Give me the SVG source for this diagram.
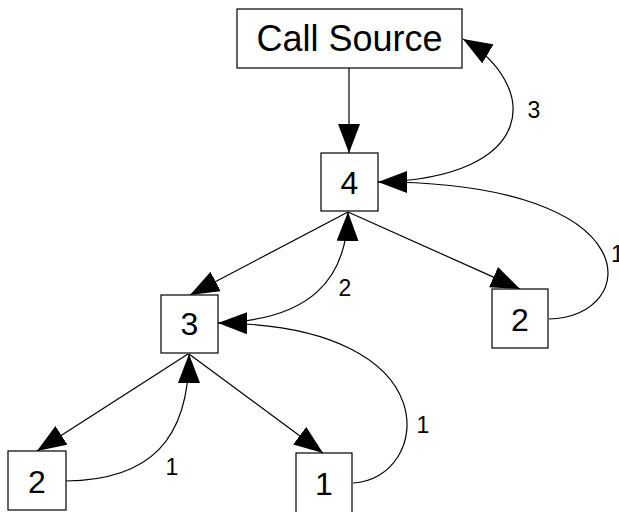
<svg xmlns="http://www.w3.org/2000/svg" width="619" height="512" viewBox="0 0 619 512">
<style>
.box{fill:#fff;stroke:#000;stroke-width:1.2}
.edge{fill:none;stroke:#000;stroke-width:1.2;marker-end:url(#arr)}
.nt{font-family:"Liberation Sans",Arial,sans-serif;font-size:32px;text-anchor:middle;fill:#000}
.big{font-size:36px}
.lbl{font-family:"Liberation Sans",Arial,sans-serif;font-size:23px;text-anchor:middle;fill:#000}
</style>
<defs>
<marker id="arr" viewBox="0 0 29 22" refX="29" refY="11" markerWidth="29" markerHeight="22" orient="auto" markerUnits="userSpaceOnUse">
<path d="M0,0 L29,11 L0,22 z" fill="#000"/>
</marker>
</defs>
<rect width="619" height="512" fill="#fff"/>
<g id="connectors">
<path class="edge" d="M349,68 L349,153"/>
<path class="edge" d="M348,212 L190,295"/>
<path class="edge" d="M348,212 L520,289"/>
<path class="edge" d="M188,354 L37,451"/>
<path class="edge" d="M189,354 L323,453"/>
<path class="edge" d="M378,182 C540,178 540,85 463,39"/>
<path class="edge" d="M549,319 C640,318 655,182 378,182"/>
<path class="edge" d="M218,323 C310,320 347,280 348,212"/>
<path class="edge" d="M353,483 C430,480 455,325 218,323"/>
<path class="edge" d="M66,481 C150,480 189,440 189,354"/>
<text class="lbl" x="534" y="118">3</text>
<text class="lbl" x="611" y="262" style="text-anchor:start">1</text>
<text class="lbl" x="345" y="296">2</text>
<text class="lbl" x="423" y="433">1</text>
<text class="lbl" x="172" y="475">1</text>
</g>
<g id="call-source"><rect class="box" x="237" y="9" width="225" height="59"/><text class="nt big" x="349.5" y="51">Call Source</text></g>
<g id="node-4"><rect class="box" x="321" y="153" width="57" height="58"/><text class="nt" x="349.5" y="194">4</text></g>
<g id="node-2a"><rect class="box" x="492" y="289" width="56" height="59"/><text class="nt" x="520" y="331">2</text></g>
<g id="node-3"><rect class="box" x="161" y="295" width="57" height="58"/><text class="nt" x="189.5" y="335">3</text></g>
<g id="node-2b"><rect class="box" x="8" y="451" width="58" height="59"/><text class="nt" x="37" y="493">2</text></g>
<g id="node-1"><rect class="box" x="296" y="453" width="56" height="62"/><text class="nt" x="324" y="495">1</text></g>
</svg>
